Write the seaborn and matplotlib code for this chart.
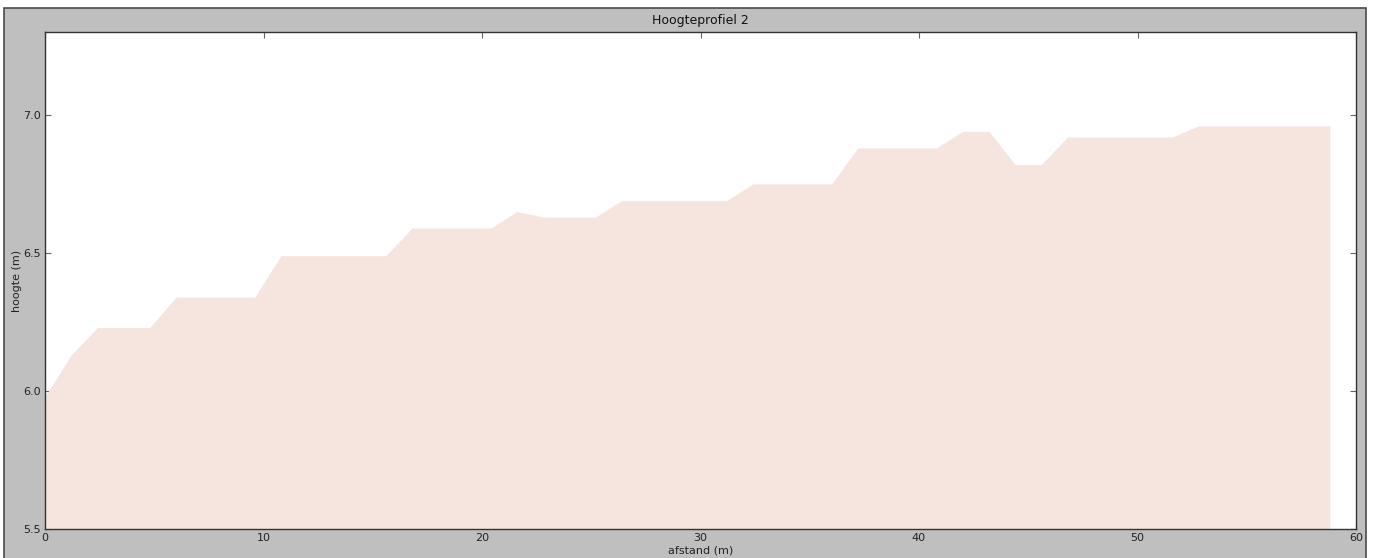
import seaborn as sns
import matplotlib.pyplot as plt
from matplotlib.patches import Rectangle
import pandas as pd

# afstand (m) and hoogte (m) along the profile
afstand = [0.0, 1.2, 2.4, 3.6, 4.8, 6.0, 7.2, 8.4, 9.6, 10.8,
           12.0, 13.2, 14.4, 15.6, 16.8, 18.0, 19.2, 20.4, 21.6, 22.8,
           24.0, 25.2, 26.4, 27.6, 28.8, 30.0, 31.2, 32.4, 33.6, 34.8,
           36.0, 37.2, 38.4, 39.6, 40.8, 42.0, 43.2, 44.4, 45.6, 46.8,
           48.0, 49.2, 50.4, 51.6, 52.8, 54.0, 55.2, 56.4, 57.6, 58.8]
hoogte = [5.98, 6.13, 6.23, 6.23, 6.23, 6.34, 6.34, 6.34, 6.34, 6.49,
          6.49, 6.49, 6.49, 6.49, 6.59, 6.59, 6.59, 6.59, 6.65, 6.63,
          6.63, 6.63, 6.69, 6.69, 6.69, 6.69, 6.69, 6.75, 6.75, 6.75,
          6.75, 6.88, 6.88, 6.88, 6.88, 6.94, 6.94, 6.82, 6.82, 6.92,
          6.92, 6.92, 6.92, 6.92, 6.96, 6.96, 6.96, 6.96, 6.96, 6.96]

df = pd.DataFrame({'afstand': afstand, 'hoogte': hoogte})

sns.set_style('white')
plt.rcParams['font.family'] = ['DejaVu Sans']

fill_color = '#f6e5df'

fig = plt.figure(figsize=(13.79, 5.58), dpi=100, facecolor='white')
# grey window background with a dark frame, like the screenshot
fig.patches.append(Rectangle((4 / 1379, -0.01), 1362 / 1379, 1 - 8 / 558 + 0.01,
                             transform=fig.transFigure, facecolor='#bfbfbf',
                             edgecolor='#4a4a4a', linewidth=1.2, zorder=-10))

ax = fig.add_axes([45 / 1379, 1 - 529 / 558, 1311 / 1379, 497 / 558])
ax.set_zorder(1)
ax.set_facecolor('white')

sns.lineplot(x='afstand', y='hoogte', data=df, ax=ax, color=fill_color, linewidth=0)
ax.fill_between(df['afstand'], df['hoogte'], 5.5, color=fill_color, linewidth=0)

ax.set_xlim(0, 60)
ax.set_ylim(5.5, 7.3)
ax.set_xticks([0, 10, 20, 30, 40, 50, 60])
ax.set_yticks([5.5, 6.0, 6.5, 7.0])
ax.tick_params(direction='in', length=4, width=0.8, color='#666666',
               labelsize=8, labelcolor='#222222', pad=3,
               top=True, right=True, bottom=True, left=True)
for s in ax.spines.values():
    s.set_color('#333333')
    s.set_linewidth(1.0)

ax.set_title('Hoogteprofiel 2', fontsize=9, color='#111111', pad=6)
ax.set_xlabel('afstand (m)', fontsize=8, color='#222222', labelpad=2)
ax.set_ylabel('hoogte (m)', fontsize=8, color='#222222', labelpad=1)

fig.savefig('out.png', dpi=100, facecolor=fig.get_facecolor())
plt.close()
